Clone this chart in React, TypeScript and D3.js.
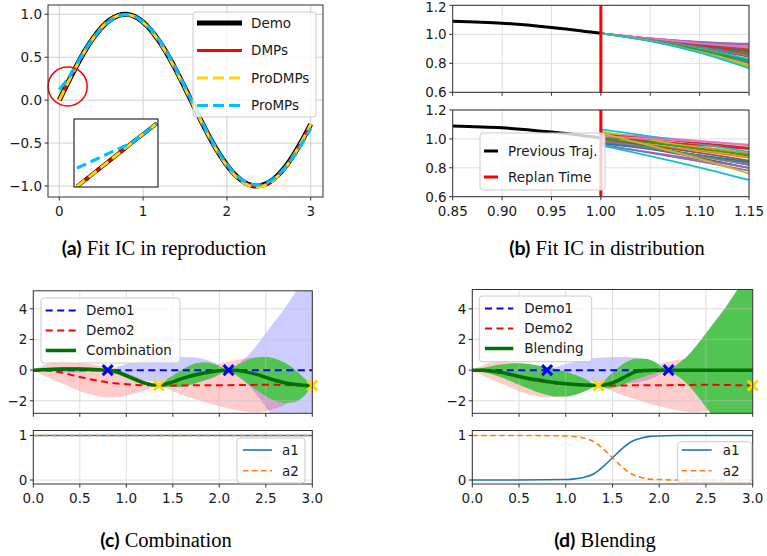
import React from "react";
import * as d3 from "d3";

const FONT = "'DejaVu Sans', sans-serif";
const FS = 13.5;

// ---------------- (a) Fit IC in reproduction ----------------
const xsA = [0, 0.1, 0.2, 0.3, 0.4, 0.5, 0.6, 0.7, 0.8, 0.9, 1.0, 1.1, 1.2, 1.3, 1.4, 1.5, 1.6, 1.7, 1.8, 1.9, 2.0, 2.1, 2.2, 2.3, 2.4, 2.5, 2.6, 2.7, 2.8, 2.9, 3.0];
const demoA = [0, 0.199, 0.389, 0.565, 0.717, 0.841, 0.932, 0.985, 1.0, 0.974, 0.909, 0.808, 0.675, 0.516, 0.335, 0.141, -0.058, -0.256, -0.443, -0.612, -0.757, -0.872, -0.952, -0.994, -0.996, -0.959, -0.883, -0.773, -0.631, -0.465, -0.279];
const dmpsA = [0, 0.2, 0.39, 0.566, 0.718, 0.842, 0.932, 0.984, 0.998, 0.972, 0.907, 0.806, 0.674, 0.515, 0.334, 0.14, -0.06, -0.258, -0.446, -0.616, -0.762, -0.878, -0.958, -1.0, -1.002, -0.965, -0.889, -0.779, -0.636, -0.47, -0.285];
const prodmpsA = [0, 0.198, 0.388, 0.563, 0.715, 0.84, 0.931, 0.984, 0.999, 0.973, 0.906, 0.805, 0.672, 0.512, 0.331, 0.137, -0.062, -0.26, -0.448, -0.618, -0.764, -0.88, -0.962, -1.005, -1.008, -0.97, -0.893, -0.782, -0.638, -0.47, -0.28];
const prompsA = [0.12, 0.245, 0.405, 0.57, 0.712, 0.832, 0.922, 0.978, 0.996, 0.975, 0.915, 0.818, 0.688, 0.53, 0.35, 0.155, -0.045, -0.245, -0.434, -0.604, -0.748, -0.862, -0.941, -0.982, -0.985, -0.952, -0.882, -0.782, -0.65, -0.5, -0.33];
const insetX = [0, 0.02, 0.04, 0.06, 0.07, 0.08, 0.1];
const insetDemo = [0, 0.04, 0.08, 0.12, 0.14, 0.16, 0.199];
const insetProMPs = [0.058, 0.081, 0.105, 0.128, 0.14, 0.16, 0.199];
const circleA = { x: 0.1, y: 0.16 };
const ticksAX = [0, 1, 2, 3];
const labelsAX = ["0", "1", "2", "3"];
const ticksAY = [-1, -0.5, 0, 0.5, 1];
const labelsAY = ["\u22121.0", "\u22120.5", "0.0", "0.5", "1.0"];
const legendA = ["Demo", "DMPs", "ProDMPs", "ProMPs"];

// ---------------- (b) Fit IC in distribution ----------------
const prevXB = [0.85, 0.9, 0.95, 1.0];
const prevYB = [1.09, 1.077, 1.047, 1.007];
const sampleXB = [1.0, 1.05, 1.1, 1.15];
const topSamplesB = [
  [1.007, 0.96, 0.897, 0.82],
  [1.007, 0.97, 0.939, 0.915],
  [1.007, 0.965, 0.919, 0.87],
  [1.007, 0.962, 0.908, 0.845],
  [1.007, 0.972, 0.948, 0.935],
  [1.007, 0.964, 0.915, 0.86],
  [1.007, 0.971, 0.944, 0.925],
  [1.007, 0.957, 0.888, 0.8],
  [1.007, 0.956, 0.882, 0.785],
  [1.007, 0.961, 0.902, 0.83],
  [1.007, 0.966, 0.924, 0.88],
  [1.007, 0.969, 0.935, 0.905],
  [1.007, 0.958, 0.893, 0.81],
  [1.007, 0.967, 0.926, 0.885],
  [1.007, 0.972, 0.946, 0.93],
  [1.007, 0.968, 0.931, 0.895],
  [1.007, 0.97, 0.937, 0.91],
  [1.007, 0.963, 0.911, 0.85],
  [1.007, 0.955, 0.877, 0.775],
  [1.007, 0.953, 0.873, 0.765],
];
const botSamplesB = [
  [1.0, 0.944, 0.885, 0.82],
  [1.03, 0.99, 0.947, 0.9],
  [1.02, 0.977, 0.93, 0.88],
  [1.01, 0.985, 0.959, 0.93],
  [0.96, 0.904, 0.845, 0.78],
  [0.99, 0.931, 0.868, 0.8],
  [1.04, 1.014, 0.986, 0.955],
  [0.98, 0.934, 0.884, 0.83],
  [1.05, 0.994, 0.935, 0.87],
  [1.066, 1.018, 0.966, 0.91],
  [0.97, 0.93, 0.887, 0.84],
  [1.0, 0.96, 0.917, 0.87],
  [1.01, 0.973, 0.933, 0.89],
  [1.03, 1.002, 0.972, 0.94],
  [0.955, 0.907, 0.856, 0.8],
  [1.0, 0.954, 0.904, 0.85],
  [1.02, 1.001, 0.982, 0.96],
  [0.99, 0.937, 0.881, 0.82],
  [1.04, 0.953, 0.861, 0.76],
  [0.955, 0.881, 0.802, 0.716],
];
const replanB = 1.0;
const ticksBX = [0.85, 0.9, 0.95, 1.0, 1.05, 1.1, 1.15];
const labelsBX = ["0.85", "0.90", "0.95", "1.00", "1.05", "1.10", "1.15"];
const ticksBY = [0.6, 0.8, 1.0, 1.2];
const labelsBY = ["0.6", "0.8", "1.0", "1.2"];
const legendB = ["Previous Traj.", "Replan Time"];

// ---------------- (c) Combination / (d) Blending ----------------
const gridX = [0, 0.1, 0.2, 0.3, 0.4, 0.5, 0.6, 0.7, 0.8, 0.9, 1.0, 1.1, 1.2, 1.35, 1.45, 1.55, 1.65, 1.75, 1.85, 1.95, 2.1, 2.2, 2.3, 2.4, 2.5, 2.6, 2.7, 2.8, 2.9, 3.0];
const demo1Mean = [0, 0, 0, 0, 0, 0, 0, 0, 0, 0, 0, 0, 0, 0, 0, 0, 0, 0, 0, 0, 0, 0, 0, 0, 0, 0, 0, 0, 0, 0];
const demo1Std = [0, 0.05, 0.1, 0.13, 0.15, 0.15, 0.12, 0.07, 0, 0.2, 0.4, 0.55, 0.68, 0.8, 0.84, 0.86, 0.86, 0.82, 0.7, 0.48, 0, 0.4, 0.9, 1.6, 2.4, 3.2, 4.0, 4.9, 5.9, 7.0];
const demo2Mean = [0, -0.01, -0.05, -0.15, -0.3, -0.45, -0.58, -0.7, -0.8, -0.87, -0.92, -0.96, -0.99, -1.0, -1.0, -1.0, -1.0, -0.99, -0.99, -0.98, -0.98, -0.97, -0.97, -0.96, -0.96, -0.96, -0.97, -0.98, -0.99, -1.0];
const demo2Std = [0, 0.3, 0.55, 0.7, 0.82, 0.92, 0.98, 1.0, 0.98, 0.9, 0.75, 0.55, 0.33, 0, 0.25, 0.5, 0.72, 0.93, 1.12, 1.3, 1.52, 1.65, 1.75, 1.78, 1.72, 1.55, 1.28, 0.92, 0.48, 0];
const combMean = [0, 0.02, 0.05, 0.07, 0.08, 0.07, 0.05, 0.02, 0, -0.12, -0.36, -0.62, -0.85, -1.0, -0.86, -0.66, -0.46, -0.3, -0.17, -0.07, 0, -0.03, -0.13, -0.28, -0.47, -0.66, -0.82, -0.92, -0.98, -1.0];
const combUpper = [0, 0.06, 0.12, 0.17, 0.19, 0.18, 0.14, 0.08, 0, -0.02, -0.22, -0.5, -0.75, -1, -0.55, -0.15, 0.2, 0.45, 0.52, 0.4, 0, 0.35, 0.65, 0.82, 0.85, 0.75, 0.5, 0.1, -0.45, -1];
const combLower = [0, -0.02, -0.02, -0.03, -0.03, -0.04, -0.04, -0.03, 0, -0.2, -0.5, -0.75, -0.95, -1, -1.1, -1.1, -1.0, -0.85, -0.65, -0.42, 0, -0.4, -0.85, -1.3, -1.7, -2.0, -2.15, -2.1, -1.75, -1];
const blendMean = [0, -0.01, -0.05, -0.14, -0.27, -0.41, -0.54, -0.65, -0.74, -0.82, -0.88, -0.93, -0.97, -1.0, -0.92, -0.7, -0.38, -0.1, -0.02, 0, 0, 0, 0, 0, 0, 0, 0, 0, 0, 0];
const blendUpper = [0, 0.12, 0.25, 0.36, 0.43, 0.45, 0.4, 0.3, 0.18, 0.05, -0.1, -0.3, -0.55, -1, -0.45, 0.1, 0.55, 0.75, 0.75, 0.55, 0, 0.4, 0.9, 1.6, 2.4, 3.2, 4.0, 4.9, 5.9, 7.0];
const blendLower = [0, -0.1, -0.25, -0.45, -0.7, -0.95, -1.2, -1.45, -1.62, -1.72, -1.72, -1.62, -1.4, -1, -1.2, -1.1, -0.85, -0.6, -0.4, -0.22, 0, -0.4, -0.9, -1.6, -2.4, -3.2, -4.0, -4.9, -5.9, -7.0];
const viaBlueX = [0.8, 2.1];
const viaBlueY = [0, 0];
const viaGoldX = [1.35, 3.0];
const viaGoldY = [-1, -1];
const combA1X = [0, 3];
const combA1 = [1, 1];
const combA2 = [1, 1];
const blendAX = [0, 0.5, 1.0, 1.1, 1.2, 1.3, 1.4, 1.5, 1.6, 1.7, 1.8, 1.9, 2.0, 2.2, 2.5, 3.0];
const blendA1 = [0, 0, 0.01, 0.025, 0.06, 0.14, 0.3, 0.5, 0.7, 0.86, 0.94, 0.98, 0.99, 1, 1, 1];
const blendA2 = [1, 1, 0.99, 0.975, 0.94, 0.86, 0.7, 0.5, 0.3, 0.14, 0.06, 0.02, 0.01, 0, 0, 0];
const ticksCX = [0, 0.5, 1, 1.5, 2, 2.5, 3];
const labelsCX = ["0.0", "0.5", "1.0", "1.5", "2.0", "2.5", "3.0"];
const ticksCY = [-2, 0, 2, 4];
const labelsCY = ["\u22122", "0", "2", "4"];
const ticksCY2 = [0, 1];
const labelsCY2 = ["0", "1"];
const legendC = ["Demo1", "Demo2", "Combination"];
const legendD = ["Demo1", "Demo2", "Blending"];
const legendW = ["a1", "a2"];

const captions = [
  { tag: "(a)", text: " Fit IC in reproduction" },
  { tag: "(b)", text: " Fit IC in distribution" },
  { tag: "(c)", text: " Combination" },
  { tag: "(d)", text: " Blending" },
];

const tab10 = d3.schemeCategory10;
const FRAME = "#333";
const GREEN_FILL = "#52c452";

type Sc = d3.ScaleLinear<number, number>;

function linePath(xs: number[], ys: number[], sx: Sc, sy: Sc, curve: any = d3.curveMonotoneX) {
  return d3.line<number>().x((_, i) => sx(xs[i])).y((d) => sy(d)).curve(curve)(ys) || "";
}
function areaPath(xs: number[], lo: number[], hi: number[], sx: Sc, sy: Sc) {
  return d3.area<number>().x((d) => sx(d)).y0((_, i) => sy(lo[i])).y1((_, i) => sy(hi[i])).curve(d3.curveMonotoneX)(xs) || "";
}

function Grid({ sx, sy, xv, yv, box, color }: any) {
  return (
    <g stroke={color} strokeWidth={1}>
      {xv.map((v: number, i: number) => <line key={"x" + i} x1={sx(v)} x2={sx(v)} y1={box.top} y2={box.bottom} />)}
      {yv.map((v: number, i: number) => <line key={"y" + i} y1={sy(v)} y2={sy(v)} x1={box.left} x2={box.right} />)}
    </g>
  );
}
function FrameRect({ box }: any) {
  return <rect x={box.left} y={box.top} width={box.right - box.left} height={box.bottom - box.top} fill="none" stroke={FRAME} strokeWidth={1} />;
}
function XAxis({ sx, vals, labels, y, showLabels }: any) {
  return (
    <g>
      {vals.map((v: number, i: number) => (
        <g key={i}>
          <line x1={sx(v)} x2={sx(v)} y1={y} y2={y + 3.5} stroke={FRAME} strokeWidth={1} />
          {showLabels && <text x={sx(v)} y={y + 19} textAnchor="middle" fontSize={FS} fill="#1a1a1a">{labels[i]}</text>}
        </g>
      ))}
    </g>
  );
}
function YAxis({ sy, vals, labels, x }: any) {
  return (
    <g>
      {vals.map((v: number, i: number) => (
        <g key={i}>
          <line x1={x - 3.5} x2={x} y1={sy(v)} y2={sy(v)} stroke={FRAME} strokeWidth={1} />
          <text x={x - 6} y={Math.max(sy(v), 7.2) + 4.8} textAnchor="end" fontSize={FS} fill="#1a1a1a">{labels[i]}</text>
        </g>
      ))}
    </g>
  );
}
function Legend({ box, items, y0, dy, hx0, hx1, tx }: any) {
  return (
    <g>
      <rect x={box[0]} y={box[1]} width={box[2] - box[0]} height={box[3] - box[1]} rx={3} fill="white" fillOpacity={0.8} stroke="#cccccc" strokeWidth={1} />
      {items.map((it: any, i: number) => (
        <g key={i}>
          <line x1={hx0} x2={hx1} y1={y0 + i * dy} y2={y0 + i * dy} stroke={it.color} strokeWidth={it.width} strokeDasharray={it.dash || undefined} />
          <text x={tx} y={y0 + i * dy + 4.8} fontSize={FS} fill="#1a1a1a">{it.label}</text>
        </g>
      ))}
    </g>
  );
}
function XMark({ x, y, color }: any) {
  return <path d={`M${x - 5},${y - 5}L${x + 5},${y + 5}M${x - 5},${y + 5}L${x + 5},${y - 5}`} stroke={color} strokeWidth={3} fill="none" />;
}

function PanelA() {
  const box = { left: 48, right: 323, top: 5, bottom: 197 };
  const sx = d3.scaleLinear().domain([0, 3]).range([59.3, 310.7]);
  const sy = d3.scaleLinear().domain([-1, 1]).range([186, 14.3]);
  const ib = { left: 74, right: 158, top: 119, bottom: 187 };
  const ix = d3.scaleLinear().domain([0, 0.1]).range([77, 157]);
  const iy = d3.scaleLinear().domain([0, 0.2]).range([186.5, 123]);
  const cr = d3.curveCatmullRom;
  return (
    <g>
      <defs>
        <clipPath id="clipA"><rect x={box.left} y={box.top} width={box.right - box.left} height={box.bottom - box.top} /></clipPath>
        <clipPath id="clipAi"><rect x={ib.left} y={ib.top} width={ib.right - ib.left} height={ib.bottom - ib.top} /></clipPath>
      </defs>
      <rect x={box.left} y={box.top} width={box.right - box.left} height={box.bottom - box.top} fill="white" />
      <Grid sx={sx} sy={sy} xv={ticksAX} yv={ticksAY} box={box} color="#cfcfcf" />
      <g clipPath="url(#clipA)" fill="none">
        <path d={linePath(xsA, demoA, sx, sy, cr)} stroke="black" strokeWidth={5} />
        <path d={linePath(xsA, dmpsA, sx, sy, cr)} stroke="red" strokeWidth={3} />
        <path d={linePath(xsA, prodmpsA, sx, sy, cr)} stroke="#ffd700" strokeWidth={3} strokeDasharray="11,5" />
        <path d={linePath(xsA, prompsA, sx, sy, cr)} stroke="#00bfff" strokeWidth={3.2} strokeDasharray="11,5" />
      </g>
      <circle cx={sx(circleA.x)} cy={sy(circleA.y)} r={19.5} fill="none" stroke="red" strokeWidth={1.5} />
      <FrameRect box={box} />
      <XAxis sx={sx} vals={ticksAX} labels={labelsAX} y={box.bottom} showLabels />
      <YAxis sy={sy} vals={ticksAY} labels={labelsAY} x={box.left} />
      <rect x={ib.left} y={ib.top} width={ib.right - ib.left} height={ib.bottom - ib.top} fill="white" />
      <g clipPath="url(#clipAi)" fill="none">
        <path d={linePath(insetX, insetDemo, ix, iy, d3.curveLinear)} stroke="black" strokeWidth={4} />
        <path d={linePath(insetX, insetDemo, ix, iy, d3.curveLinear)} stroke="red" strokeWidth={2.5} />
        <path d={linePath(insetX, insetDemo, ix, iy, d3.curveLinear)} stroke="#ffd700" strokeWidth={3} strokeDasharray="10,5" />
        <path d={linePath(insetX, insetProMPs, ix, iy, d3.curveMonotoneX)} stroke="#00bfff" strokeWidth={3.2} strokeDasharray="10,5" />
      </g>
      <rect x={ib.left} y={ib.top} width={ib.right - ib.left} height={ib.bottom - ib.top} fill="none" stroke="black" strokeWidth={1} />
      <Legend
        box={[193, 12, 316, 117]}
        items={[
          { label: legendA[0], color: "black", width: 5 },
          { label: legendA[1], color: "red", width: 3 },
          { label: legendA[2], color: "#ffd700", width: 3, dash: "11,5" },
          { label: legendA[3], color: "#00bfff", width: 3.2, dash: "11,5" },
        ]}
        y0={23} dy={27.5} hx0={197} hx1={242} tx={251}
      />
    </g>
  );
}

function PanelB() {
  const left = 452.7, right = 749;
  const box1 = { left, right, top: 5.3, bottom: 92.3 };
  const box2 = { left, right, top: 110, bottom: 196.7 };
  const sx = d3.scaleLinear().domain([0.85, 1.15]).range([left, right]);
  const sy1 = d3.scaleLinear().domain([0.6, 1.2]).range([box1.bottom, box1.top]);
  const sy2 = d3.scaleLinear().domain([0.6, 1.2]).range([box2.bottom, box2.top]);
  const sub = (box: any, sy: Sc, samples: number[][], id: string, labels: boolean) => (
    <g>
      <defs><clipPath id={id}><rect x={box.left} y={box.top} width={box.right - box.left} height={box.bottom - box.top} /></clipPath></defs>
      <Grid sx={sx} sy={sy} xv={ticksBX} yv={ticksBY} box={box} color="#dedede" />
      <g clipPath={`url(#${id})`} fill="none">
        <path d={linePath(prevXB, prevYB, sx, sy)} stroke="black" strokeWidth={3} />
        {samples.map((s, i) => (
          <path key={i} d={linePath(sampleXB, s, sx, sy, d3.curveCatmullRom)} stroke={tab10[i % 10]} strokeWidth={1.8} />
        ))}
        <line x1={sx(replanB)} x2={sx(replanB)} y1={box.top} y2={box.bottom} stroke="red" strokeWidth={3} />
      </g>
      <FrameRect box={box} />
      <XAxis sx={sx} vals={ticksBX} labels={labelsBX} y={box.bottom} showLabels={labels} />
      <YAxis sy={sy} vals={ticksBY} labels={labelsBY} x={box.left} />
    </g>
  );
  return (
    <g>
      {sub(box1, sy1, topSamplesB, "clipB1", false)}
      {sub(box2, sy2, botSamplesB, "clipB2", true)}
      <Legend
        box={[480, 133, 605, 190]}
        items={[
          { label: legendB[0], color: "black", width: 3 },
          { label: legendB[1], color: "red", width: 3 },
        ]}
        y0={151} dy={26} hx0={484} hx1={498} tx={508}
      />
    </g>
  );
}

function PanelCD({ left, right, top, id, upper, lower, mean, labels, a1x, a1, a2, legBox, legX, wLegBox, wLegX }: any) {
  const box = { left, right, top, bottom: 413.3 };
  const box2 = { left, right, top: 430.5, bottom: 484 };
  const sx = d3.scaleLinear().domain([0, 3]).range([left, right]);
  const sy = d3.scaleLinear().domain([-2, 4]).range([400.8, 308.8]);
  const sy2 = d3.scaleLinear().domain([0, 1]).range([480, 435.5]);
  const d1lo = demo1Mean.map((m, i) => m - demo1Std[i]);
  const d1hi = demo1Mean.map((m, i) => m + demo1Std[i]);
  const d2lo = demo2Mean.map((m, i) => m - demo2Std[i]);
  const d2hi = demo2Mean.map((m, i) => m + demo2Std[i]);
  return (
    <g>
      <defs>
        <clipPath id={id + "1"}><rect x={box.left} y={box.top} width={box.right - box.left} height={box.bottom - box.top} /></clipPath>
        <clipPath id={id + "2"}><rect x={box2.left} y={box2.top} width={box2.right - box2.left} height={box2.bottom - box2.top} /></clipPath>
      </defs>
      <g clipPath={`url(#${id}1)`}>
        <path d={areaPath(gridX, d1lo, d1hi, sx, sy)} fill="blue" fillOpacity={0.2} />
        <path d={areaPath(gridX, d2lo, d2hi, sx, sy)} fill="red" fillOpacity={0.2} />
        <path d={areaPath(gridX, lower, upper, sx, sy)} fill={GREEN_FILL} />
      </g>
      <g opacity={0.55}>
        <Grid sx={sx} sy={sy} xv={ticksCX} yv={ticksCY} box={box} color="#c4c4c4" />
      </g>
      <g clipPath={`url(#${id}1)`} fill="none">
        <path d={linePath(gridX, demo1Mean, sx, sy)} stroke="blue" strokeWidth={2} strokeDasharray="7,4.5" />
        <path d={linePath(gridX, demo2Mean, sx, sy)} stroke="red" strokeWidth={2} strokeDasharray="7,4.5" />
        <path d={linePath(gridX, mean, sx, sy)} stroke="#007000" strokeWidth={3.5} />
      </g>
      {viaBlueX.map((v, i) => <XMark key={"b" + i} x={sx(v)} y={sy(viaBlueY[i])} color="blue" />)}
      {viaGoldX.map((v, i) => <XMark key={"g" + i} x={sx(v)} y={sy(viaGoldY[i])} color="#ffd700" />)}
      <FrameRect box={box} />
      <XAxis sx={sx} vals={ticksCX} labels={labelsCX} y={box.bottom} showLabels={false} />
      <YAxis sy={sy} vals={ticksCY} labels={labelsCY} x={box.left} />
      <Legend
        box={legBox}
        items={[
          { label: labels[0], color: "blue", width: 2, dash: "7,4.5" },
          { label: labels[1], color: "red", width: 2, dash: "7,4.5" },
          { label: labels[2], color: "#007000", width: 3.5 },
        ]}
        y0={legBox[1] + 12.5} dy={20} hx0={legX[0]} hx1={legX[1]} tx={legX[2]}
      />
      <Grid sx={sx} sy={sy2} xv={ticksCX} yv={ticksCY2} box={box2} color="#e0e0e0" />
      <g clipPath={`url(#${id}2)`} fill="none">
        <path d={linePath(a1x, a1, sx, sy2)} stroke={tab10[0]} strokeWidth={1.6} />
        <path d={linePath(a1x, a2, sx, sy2)} stroke={tab10[1]} strokeWidth={1.6} strokeDasharray="5.5,3.5" />
      </g>
      <FrameRect box={box2} />
      <XAxis sx={sx} vals={ticksCX} labels={labelsCX} y={box2.bottom} showLabels />
      <YAxis sy={sy2} vals={ticksCY2} labels={labelsCY2} x={box2.left} />
      <Legend
        box={wLegBox}
        items={[
          { label: legendW[0], color: tab10[0], width: 1.6 },
          { label: legendW[1], color: tab10[1], width: 1.6, dash: "5.5,3.5" },
        ]}
        y0={450} dy={20.7} hx0={wLegX[0]} hx1={wLegX[1]} tx={wLegX[2]}
      />
    </g>
  );
}

function Caption({ cx, y, i }: any) {
  return (
    <text x={cx} y={y} textAnchor="middle" fill="black">
      <tspan fontFamily="Lato, sans-serif" fontWeight="bold" fontSize={19.5}>{captions[i].tag}</tspan>
      <tspan fontFamily="'Liberation Serif', serif" fontSize={20.5}>{captions[i].text}</tspan>
    </text>
  );
}

export default function App() {
  return (
    <div style={{ position: "absolute", left: 0, top: 0 }}>
      <svg width={767} height={556} style={{ display: "block", background: "white" }} fontFamily={FONT}>
        <rect width={767} height={556} fill="white" />
        <PanelA />
        <PanelB />
        <PanelCD
          left={33.3} right={312.3} top={290.8} id="clipC"
          upper={combUpper} lower={combLower} mean={combMean} labels={legendC}
          a1x={combA1X} a1={combA1} a2={combA2}
          legBox={[41, 298, 180, 363]} legX={[45.7, 76, 86]}
          wLegBox={[237, 438, 305, 483]} wLegX={[243, 272, 282]}
        />
        <PanelCD
          left={472.3} right={752.7} top={289.5} id="clipD"
          upper={blendUpper} lower={blendLower} mean={blendMean} labels={legendD}
          a1x={blendAX} a1={blendA1} a2={blendA2}
          legBox={[479.3, 296, 591.7, 361.7]} legX={[485, 513.3, 524.3]}
          wLegBox={[677.7, 441.7, 751.7, 482.7]} wLegX={[681.7, 711.7, 722.7]}
        />
        <Caption cx={164} y={255} i={0} />
        <Caption cx={607} y={255} i={1} />
        <Caption cx={166} y={547} i={2} />
        <Caption cx={605} y={547} i={3} />
      </svg>
    </div>
  );
}
